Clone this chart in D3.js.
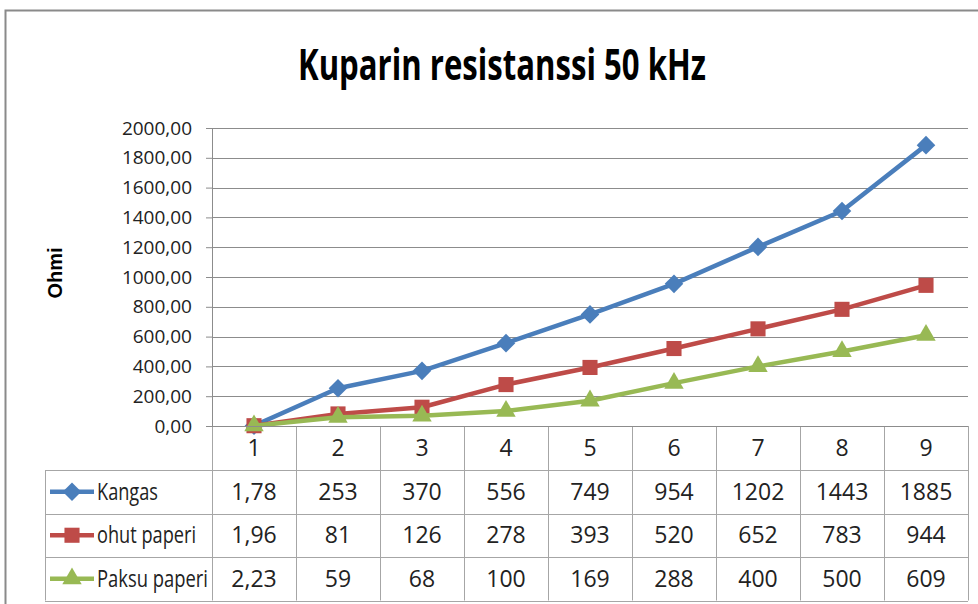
<!DOCTYPE html>
<html>
<head>
<meta charset="utf-8">
<script src="https://cdn.jsdelivr.net/npm/d3@7"></script>
<style>
  body { margin: 0; background: #fff; }
  svg text { font-family: "Open Sans", "Noto Sans", sans-serif; fill: #222; }
</style>
</head>
<body>
<svg id="chart" width="978" height="604"></svg>
<script>
var categories = ['1', '2', '3', '4', '5', '6', '7', '8', '9'];
var kangas = [1.78, 253, 370, 556, 749, 954, 1202, 1443, 1885];
var ohutPaperi = [1.96, 81, 126, 278, 393, 520, 652, 783, 944];
var paksuPaperi = [2.23, 59, 68, 100, 169, 288, 400, 500, 609];
var kangasLabels = ['1,78', '253', '370', '556', '749', '954', '1202', '1443', '1885'];
var ohutLabels = ['1,96', '81', '126', '278', '393', '520', '652', '783', '944'];
var paksuLabels = ['2,23', '59', '68', '100', '169', '288', '400', '500', '609'];
var yTicks = [0, 200, 400, 600, 800, 1000, 1200, 1400, 1600, 1800, 2000];

var series = [
  { name: 'Kangas', width: 61, values: kangas, labels: kangasLabels, color: '#4a7ebb', symbol: d3.symbolDiamond2, size: 220 },
  { name: 'ohut paperi', width: 99, values: ohutPaperi, labels: ohutLabels, color: '#be4b48', symbol: d3.symbolSquare2, size: 290 },
  { name: 'Paksu paperi', width: 111, values: paksuPaperi, labels: paksuLabels, color: '#98b954', symbol: d3.symbolTriangle2, size: 270 }
];

var svg = d3.select('#chart');
var plot = { left: 212, right: 968, top: 128, bottom: 426 };
var legendLeft = 45, headerH = 44, rowH = 43.5;

// outer frame
svg.append('path')
  .attr('d', 'M5.5,604 V10.5 H978')
  .attr('fill', 'none')
  .attr('stroke', '#8a8a8a')
  .attr('stroke-width', 2);

svg.append('text')
  .attr('x', 298).attr('y', 80)
  .attr('textLength', 408)
  .attr('lengthAdjust', 'spacingAndGlyphs')
  .style('font-size', '43px')
  .style('font-weight', 'bold')
  .style('fill', '#000')
  .text('Kuparin resistanssi 50 kHz');

var x = d3.scaleBand().domain(categories).range([plot.left, plot.right]);
var y = d3.scaleLinear().domain([0, 2000]).range([plot.bottom, plot.top]);
var cx = function(c) { return x(c) + x.bandwidth() / 2; };

// gridlines
svg.append('g')
  .selectAll('line')
  .data(yTicks)
  .enter().append('line')
  .attr('x1', plot.left).attr('x2', plot.right)
  .attr('y1', function(d) { return Math.round(y(d)) + 0.5; })
  .attr('y2', function(d) { return Math.round(y(d)) + 0.5; })
  .attr('stroke', '#8c8c8c')
  .attr('stroke-width', 1);

// y axis
var yAxis = svg.append('g')
  .attr('transform', 'translate(' + plot.left + ',0)')
  .call(d3.axisLeft(y).tickValues(yTicks).tickSize(6).tickPadding(14)
    .tickFormat(function(d) { return d3.format('.2f')(d).replace('.', ','); }));
yAxis.select('.domain').attr('stroke', '#8c8c8c');
yAxis.selectAll('.tick line').attr('stroke', '#8c8c8c');
yAxis.selectAll('.tick text')
  .style('font-size', '19px')
  .style('font-family', '"Open Sans", sans-serif')
  .attr('fill', '#222');

svg.append('text')
  .attr('transform', 'translate(62,273) rotate(-90)')
  .attr('text-anchor', 'middle')
  .style('font-family', '"Liberation Sans", Arial, sans-serif')
  .style('font-size', '20px')
  .style('font-weight', 'bold')
  .style('fill', '#000')
  .text('Ohmi');

// lines and markers
var line = d3.line()
  .x(function(d, i) { return cx(categories[i]); })
  .y(function(d) { return y(d); });

series.forEach(function(s) {
  var g = svg.append('g');
  g.append('path')
    .attr('d', line(s.values))
    .attr('fill', 'none')
    .attr('stroke', s.color)
    .attr('stroke-width', 4.5)
    .attr('stroke-linejoin', 'round');
  g.selectAll('path.marker')
    .data(s.values)
    .enter().append('path')
    .attr('class', 'marker')
    .attr('d', d3.symbol().type(s.symbol).size(s.size))
    .attr('transform', function(d, i) {
      return 'translate(' + cx(categories[i]) + ',' + y(d) + ')';
    })
    .attr('fill', s.color);
});

// data table
var table = svg.append('g').attr('stroke', '#a6a6a6').attr('stroke-width', 1);
var tableBottom = plot.bottom + headerH + rowH * series.length;

table.selectAll('line.v')
  .data(categories.concat(['end']))
  .enter().append('line')
  .attr('x1', function(d, i) { return Math.round(i < categories.length ? x(d) : plot.right) + 0.5; })
  .attr('x2', function(d, i) { return Math.round(i < categories.length ? x(d) : plot.right) + 0.5; })
  .attr('y1', plot.bottom).attr('y2', tableBottom);
table.append('line')
  .attr('x1', legendLeft + 0.5).attr('x2', legendLeft + 0.5)
  .attr('y1', plot.bottom + headerH).attr('y2', tableBottom);
table.selectAll('line.h')
  .data(d3.range(series.length + 1))
  .enter().append('line')
  .attr('x1', legendLeft).attr('x2', plot.right)
  .attr('y1', function(d) { return Math.round(plot.bottom + headerH + d * rowH) + 0.5; })
  .attr('y2', function(d) { return Math.round(plot.bottom + headerH + d * rowH) + 0.5; });
svg.append('line')
  .attr('x1', plot.left).attr('x2', plot.right)
  .attr('y1', plot.bottom + 0.5).attr('y2', plot.bottom + 0.5)
  .attr('stroke', '#8c8c8c');

// header labels
svg.append('g').selectAll('text')
  .data(categories)
  .enter().append('text')
  .attr('x', cx)
  .attr('y', plot.bottom + 30)
  .attr('text-anchor', 'middle')
  .style('font-size', '23px')
  .text(function(d) { return d; });

series.forEach(function(s, r) {
  var cy = plot.bottom + headerH + rowH * r + rowH / 2;
  var g = svg.append('g');
  g.append('line')
    .attr('x1', 50).attr('x2', 94)
    .attr('y1', cy).attr('y2', cy)
    .attr('stroke', s.color).attr('stroke-width', 4.5);
  g.append('path')
    .attr('d', d3.symbol().type(s.symbol).size(s.size))
    .attr('transform', 'translate(72,' + cy + ')')
    .attr('fill', s.color);
  g.append('text')
    .attr('x', 97).attr('y', cy + 8)
    .attr('textLength', s.width)
    .attr('lengthAdjust', 'spacingAndGlyphs')
    .style('font-size', '23px')
    .text(s.name);
  g.selectAll('text.val')
    .data(s.labels)
    .enter().append('text')
    .attr('class', 'val')
    .attr('x', function(d, i) { return cx(categories[i]); })
    .attr('y', cy + 8)
    .attr('text-anchor', 'middle')
    .style('font-size', '23px')
    .text(function(d) { return d; });
});
</script>
</body>
</html>
